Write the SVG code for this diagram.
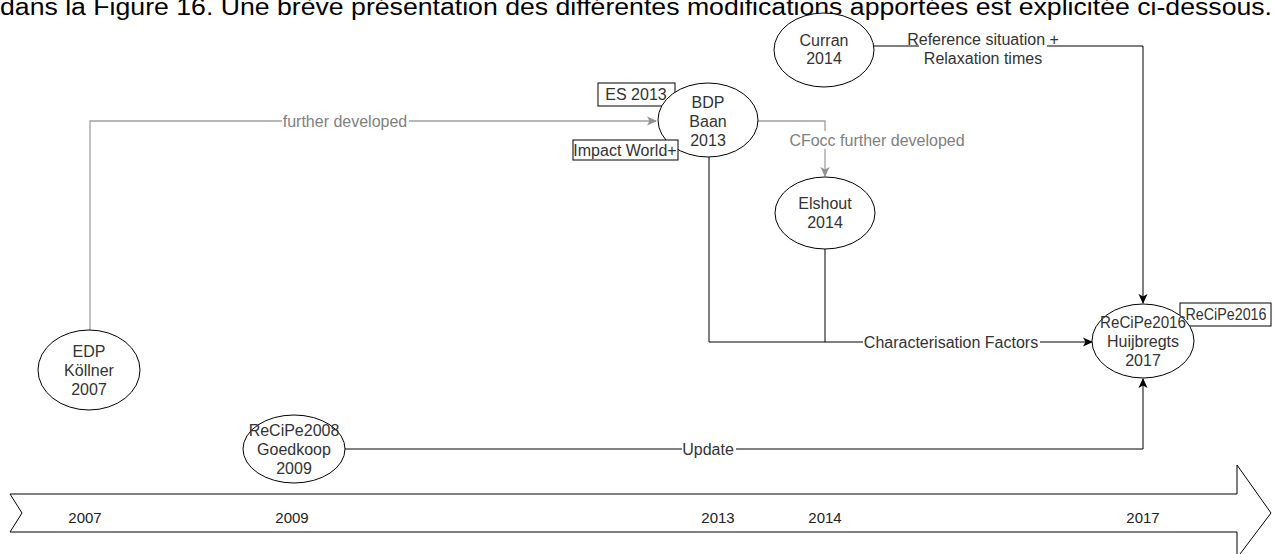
<svg xmlns="http://www.w3.org/2000/svg" width="1274" height="554" viewBox="0 0 1274 554">
<defs>
<marker id="ab" viewBox="0 0 10 10" refX="9" refY="5" markerWidth="10" markerHeight="10" markerUnits="userSpaceOnUse" orient="auto"><path d="M0,0.5 L10,5 L0,9.5 L2.5,5 Z" fill="#000"/></marker>
<marker id="ag" viewBox="0 0 10 10" refX="9" refY="5" markerWidth="10" markerHeight="10" markerUnits="userSpaceOnUse" orient="auto"><path d="M0,0.5 L10,5 L0,9.5 L2.5,5 Z" fill="#909090"/></marker>
</defs>
<style>
text{font-family:"Liberation Sans",Arial,sans-serif;font-size:16px;fill:#333;text-anchor:middle}
.n ellipse{fill:#fff;stroke:#000;stroke-width:1}
.box{fill:#fff;stroke:#000;stroke-width:1}
.c{fill:none;stroke:#000;stroke-width:1}
.g{fill:none;stroke:#a0a0a0;stroke-width:1.3}
.gl{fill:#808080}
.lb{fill:#fff;stroke:none}
.yr{font-size:15px;fill:#222}
.head{font-size:23px;fill:#000;text-anchor:start}
</style>
<rect width="1274" height="554" fill="#fff"/>
<text class="head" x="0" y="15" textLength="1272" lengthAdjust="spacingAndGlyphs">dans la Figure 16. Une brève présentation des différentes modifications apportées est explicitée ci-dessous.</text>
<g id="timeline">
<path d="M10,494 L1237,494 L1237,465 L1271,513 L1237,558 L1237,532 L10,532 L22,513 Z" fill="#fff" stroke="#000" stroke-width="1"/>
<text class="yr" x="85" y="523">2007</text>
<text class="yr" x="292" y="523">2009</text>
<text class="yr" x="718" y="523">2013</text>
<text class="yr" x="825" y="523">2014</text>
<text class="yr" x="1143" y="523">2017</text>
</g>
<g id="connectors">
<path class="g" d="M90,330 L90,121 L656,121" marker-end="url(#ag)"/>
<rect class="lb" x="282" y="112" width="127" height="18"/>
<text class="gl" x="345" y="127">further developed</text>
<path class="g" d="M758,121 L825,121 L825,176" marker-end="url(#ag)"/>
<rect class="lb" x="788" y="131" width="178" height="18"/>
<text class="gl" x="877" y="146">CFocc further developed</text>
<path class="c" d="M709,157 L709,342 L1092,342" marker-end="url(#ab)"/>
<path class="c" d="M825,249 L825,342"/>
<rect class="lb" x="863" y="333" width="177" height="18"/>
<text x="951" y="348">Characterisation Factors</text>
<path class="c" d="M874,46 L1143,46 L1143,303" marker-end="url(#ab)"/>
<rect class="lb" x="919" y="35" width="128" height="33"/>
<text x="983" y="45">Reference situation +</text>
<text x="983" y="64">Relaxation times</text>
<path class="c" d="M345,449 L1143,449 L1143,379" marker-end="url(#ab)"/>
<rect class="lb" x="682" y="440" width="54" height="18"/>
<text x="708" y="455">Update</text>
</g>
<g id="edp" class="n">
<ellipse cx="89" cy="370" rx="51" ry="40"/>
<text x="89" y="357">EDP</text>
<text x="89" y="376">Köllner</text>
<text x="89" y="395">2007</text>
</g>
<g id="es2013">
<rect class="box" x="598" y="83" width="77" height="23"/>
<text x="636" y="100">ES 2013</text>
</g>
<g id="bdp" class="n">
<ellipse cx="708" cy="120" rx="50" ry="37"/>
<text x="708" y="108">BDP</text>
<text x="708" y="127">Baan</text>
<text x="708" y="146">2013</text>
</g>
<g id="impactworld">
<rect class="box" x="573" y="140" width="105" height="20"/>
<text x="625" y="156">Impact World+</text>
</g>
<g id="elshout" class="n">
<ellipse cx="825" cy="213" rx="50" ry="36"/>
<text x="825" y="209">Elshout</text>
<text x="825" y="228">2014</text>
</g>
<g id="curran" class="n">
<ellipse cx="824" cy="50" rx="50" ry="37"/>
<text x="824" y="46">Curran</text>
<text x="824" y="64">2014</text>
</g>
<g id="recipe2008" class="n">
<ellipse cx="294" cy="449" rx="51" ry="34"/>
<text x="294" y="436">ReCiPe2008</text>
<text x="294" y="455">Goedkoop</text>
<text x="294" y="474">2009</text>
</g>
<g id="recipe2016label">
<rect class="box" x="1180" y="303" width="91" height="23"/>
<text x="1226" y="320" textLength="81" lengthAdjust="spacingAndGlyphs">ReCiPe2016</text>
</g>
<g id="recipe2016" class="n">
<ellipse cx="1143" cy="341" rx="51" ry="37"/>
<text x="1143" y="328" textLength="86" lengthAdjust="spacingAndGlyphs">ReCiPe2016</text>
<text x="1143" y="347">Huijbregts</text>
<text x="1143" y="366">2017</text>
</g>
</svg>
